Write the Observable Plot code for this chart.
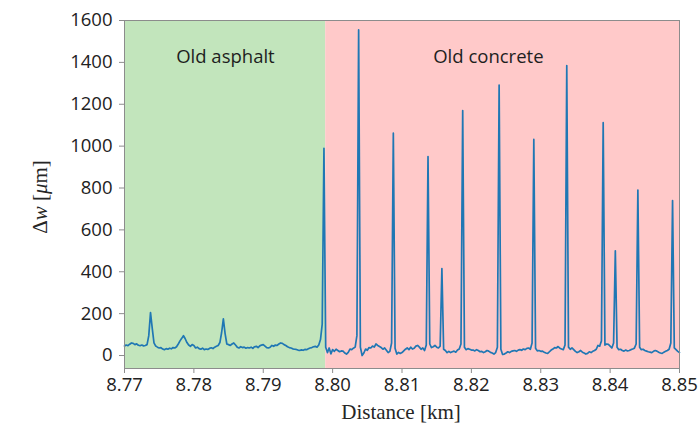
<!DOCTYPE html>
<html>
<head>
<meta charset="utf-8">
<script src="https://cdn.jsdelivr.net/npm/d3@7"></script>
<script src="https://cdn.jsdelivr.net/npm/@observablehq/plot@0.6"></script>
<style>
  body { margin: 0; background: #fff; }
</style>
</head>
<body>
<div id="chart"></div>
<script>
// ---- Data ----
const distStart = 8.77;      // km, first sample
const distStep = 0.00025;    // km between samples
const dwValues = [
  45, 50, 47, 54, 60, 58, 52, 56, 49, 47, 50, 46, 48, 52, 95, 205, 130, 60, 45, 40,
  36, 38, 31, 28, 33, 30, 35, 32, 38, 36, 42, 55, 70, 82, 95, 80, 62, 50, 44, 52,
  48, 36, 40, 33, 30, 35, 28, 31, 29, 34, 37, 33, 40, 44, 48, 62, 110, 175, 105, 55,
  52, 48, 55, 60, 50, 40, 36, 42, 38, 40, 35, 38, 36, 40, 34, 42, 44, 38, 46, 50,
  52, 45, 38, 36, 40, 48, 44, 50, 48, 55, 60, 58, 52, 48, 42, 38, 36, 32, 30, 29,
  26, 24, 27, 25, 29, 28, 32, 36, 38, 42, 44, 40, 50, 76, 150, 990, 40, 14, 36, 8,
  28, 20, 30, 24, 18, 22, 21, 12, 7, 15, 31, 28, 35, 40, 95, 1555, 40, 0, 12, 31,
  25, 38, 36, 45, 40, 55, 48, 43, 38, 30, 36, 25, 14, 20, 60, 1062, 35, 7, 15, 10,
  14, 22, 30, 36, 28, 40, 31, 35, 45, 48, 40, 30, 36, 24, 50, 950, 55, 38, 42, 48,
  40, 36, 45, 415, 30, 24, 14, 20, 14, 18, 21, 16, 26, 31, 55, 1170, 40, 28, 33, 30,
  26, 26, 22, 28, 24, 18, 20, 14, 18, 24, 21, 15, 12, 7, 14, 40, 1292, 30, 5, 7,
  12, 18, 14, 20, 22, 24, 20, 26, 28, 25, 31, 28, 34, 36, 30, 60, 1032, 35, 22, 24,
  20, 21, 16, 12, 10, 18, 26, 31, 38, 36, 43, 35, 31, 28, 50, 1385, 40, 30, 36, 28,
  20, 14, 18, 24, 16, 12, 7, 10, 18, 14, 20, 24, 30, 48, 45, 70, 1112, 50, 55, 53,
  45, 36, 60, 500, 40, 28, 30, 24, 21, 26, 22, 24, 28, 31, 35, 55, 790, 40, 28, 30,
  24, 21, 18, 16, 14, 20, 24, 21, 16, 12, 10, 16, 20, 24, 30, 60, 740, 36, 28, 20, 14
];
const regionNames = ["Old asphalt", "Old concrete"];
const regionStart = [8.77, 8.799];
const regionEnd = [8.799, 8.85];
const regionLabelX = [8.78455, 8.82245];
const regionLabelY = [1423, 1423];
const xTicks = [8.77, 8.78, 8.79, 8.80, 8.81, 8.82, 8.83, 8.84, 8.85];
const yTicks = [0, 200, 400, 600, 800, 1000, 1200, 1400, 1600];

// ---- Tables ----
const series = dwValues.map((v, i) => ({dist: distStart + i * distStep, dw: v}));
const regions = regionNames.map((name, i) => ({
  name, x1: regionStart[i], x2: regionEnd[i], lx: regionLabelX[i], ly: regionLabelY[i]
}));
const regionFill = ["#c2e5bc", "#ffc9c9"];

const W = 699, H = 425;
const svg = Plot.plot({
  width: W,
  height: H,
  marginLeft: 124,
  marginRight: 20,
  marginTop: 20,
  marginBottom: 57,
  style: {fontFamily: "'Open Sans', sans-serif", fontSize: "18.5px", color: "#222", background: "#fff"},
  x: {domain: [8.77, 8.85], label: null},
  y: {domain: [-62, 1600], label: null},
  color: {domain: regionNames, range: regionFill},
  marks: [
    Plot.rect(regions, {x1: "x1", x2: "x2", fill: "name"}),
    Plot.line(series, {x: "dist", y: "dw", stroke: "#1f77b4", strokeWidth: 1.7}),
    Plot.text(regions, {x: "lx", y: "ly", text: "name", fill: "#1e1e1e", fontSize: 18.5, fontFamily: "'Open Sans', sans-serif"}),
    Plot.frame({stroke: "#8c8c8c", strokeWidth: 1}),
    Plot.axisX({ticks: xTicks, tickFormat: d => d.toFixed(2), tickSize: 5, tickPadding: 4, stroke: "#8c8c8c", label: null}),
    Plot.axisY({ticks: yTicks, tickFormat: d => String(d), tickSize: 5, tickPadding: 7, stroke: "#8c8c8c", label: null})
  ]
});

// Axis titles with mixed italic text
const s = d3.select(svg);
const yl = s.append("text")
  .attr("transform", "translate(42,197) rotate(-90)")
  .attr("text-anchor", "middle")
  .attr("dominant-baseline", "middle")
  .style("font-family", "'Liberation Serif', serif")
  .style("font-size", "21px")
  .attr("fill", "#262626");
yl.append("tspan").text("Δ");
yl.append("tspan").style("font-style", "italic").text("w");
yl.append("tspan").text(" [");
yl.append("tspan").style("font-style", "italic").text("μ");
yl.append("tspan").text("m]");

s.append("text")
  .attr("x", 401)
  .attr("y", 419)
  .attr("text-anchor", "middle")
  .style("font-family", "'Liberation Serif', serif")
  .style("font-size", "21px")
  .attr("fill", "#262626")
  .text("Distance [km]");

document.getElementById("chart").appendChild(svg);
</script>
</body>
</html>
